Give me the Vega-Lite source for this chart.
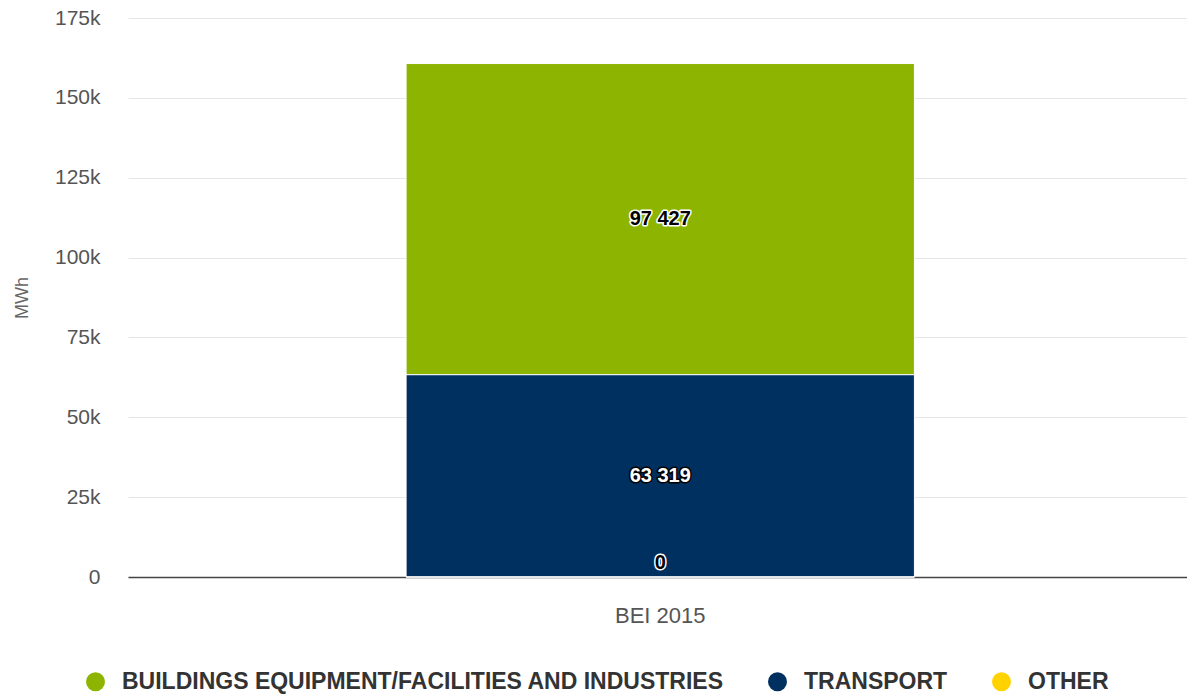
{
  "$schema": "https://vega.github.io/schema/vega-lite/v6.json",
  "width": 1059,
  "height": 559,
  "autosize": "none",
  "padding": {"left": 128, "top": 18, "right": 0, "bottom": 118},
  "background": "white",
  "config": {
    "view": {"stroke": null},
    "font": "Liberation Sans",
    "locale": {"number": {"decimal": ".", "thousands": " ", "grouping": [3], "currency": ["", ""]}},
    "axisY": {
      "titleFontSize": 18,
      "titleFontWeight": "normal",
      "titleColor": "#666666",
      "titleX": -106,
      "titleAlign": "center",
      "titleBaseline": "middle",
      "labelFontSize": 21,
      "labelColor": "#555555",
      "labelPadding": 28,
      "ticks": false,
      "domain": false,
      "grid": true,
      "gridColor": "#e6e6e6",
      "gridWidth": 1
    }
  },
  "data": {
    "values": [
      {"category": "BEI 2015", "sector": "BUILDINGS EQUIPMENT/FACILITIES AND INDUSTRIES", "value": 97427},
      {"category": "BEI 2015", "sector": "TRANSPORT", "value": 63319},
      {"category": "BEI 2015", "sector": "OTHER", "value": 0}
    ]
  },
  "transform": [
    {"calculate": "indexof(['OTHER','TRANSPORT','BUILDINGS EQUIPMENT/FACILITIES AND INDUSTRIES'], datum.sector)", "as": "rank"},
    {"stack": "value", "groupby": ["category"], "sort": [{"field": "rank", "order": "ascending"}], "as": ["v0", "v1"]},
    {"calculate": "(datum.v0 + datum.v1) / 2", "as": "mid"}
  ],
  "encoding": {
    "x": {
      "field": "category",
      "type": "nominal",
      "scale": {"paddingInner": 0.52, "paddingOuter": 0.26, "align": 0.505},
      "axis": {
        "title": null,
        "labelAngle": 0,
        "labelFontSize": 22,
        "labelColor": "#555555",
        "labelPadding": 28,
        "ticks": false,
        "domainColor": "#444444",
        "domainWidth": 1.5,
        "grid": false
      }
    }
  },
  "layer": [
    {
      "mark": {"type": "bar", "stroke": "white", "strokeWidth": 1},
      "encoding": {
        "y": {
          "field": "v0",
          "type": "quantitative",
          "scale": {"domain": [0, 175000], "nice": false, "zero": true},
          "axis": {"title": "MWh", "values": [0, 25000, 50000, 75000, 100000, 125000, 150000, 175000], "labelExpr": "datum.value == 0 ? '0' : format(datum.value / 1000, 'd') + 'k'"}
        },
        "y2": {"field": "v1"},
        "color": {
          "field": "sector",
          "type": "nominal",
          "scale": {
            "domain": ["BUILDINGS EQUIPMENT/FACILITIES AND INDUSTRIES", "TRANSPORT", "OTHER"],
            "range": ["#8cb400", "#00305f", "#ffd200"]
          },
          "legend": {
            "orient": "none",
            "legendX": -44,
            "legendY": 652,
            "direction": "horizontal",
            "title": null,
            "symbolType": "circle",
            "symbolSize": 360,
            "symbolStrokeWidth": 0,
            "symbolOpacity": 1,
            "labelFontSize": 23,
            "labelFontWeight": "bold",
            "labelColor": "#333333",
            "labelOffset": 15,
            "columnPadding": 42,
            "labelLimit": 1000
          }
        }
      }
    },
    {
      "transform": [{"filter": "datum.value > 0"}],
      "mark": {"type": "text", "fontSize": 20, "fontWeight": "bold", "strokeWidth": 3, "strokeJoin": "round", "baseline": "middle"},
      "encoding": {
        "y": {"field": "mid", "type": "quantitative", "scale": {"domain": [0, 175000], "nice": false, "zero": true}, "axis": {"title": "MWh", "values": [0, 25000, 50000, 75000, 100000, 125000, 150000, 175000], "labelExpr": "datum.value == 0 ? '0' : format(datum.value / 1000, 'd') + 'k'"}},
        "text": {"field": "value", "type": "quantitative", "format": ",d"},
        "stroke": {"condition": {"test": "datum.sector === 'TRANSPORT'", "value": "#000000"}, "value": "#ffffff"},
        "fill": {"condition": {"test": "datum.sector === 'TRANSPORT'", "value": "#000000"}, "value": "#ffffff"}
      }
    },
    {
      "transform": [{"filter": "datum.value > 0"}],
      "mark": {"type": "text", "fontSize": 20, "fontWeight": "bold", "baseline": "middle"},
      "encoding": {
        "y": {"field": "mid", "type": "quantitative", "scale": {"domain": [0, 175000], "nice": false, "zero": true}, "axis": {"title": "MWh", "values": [0, 25000, 50000, 75000, 100000, 125000, 150000, 175000], "labelExpr": "datum.value == 0 ? '0' : format(datum.value / 1000, 'd') + 'k'"}},
        "text": {"field": "value", "type": "quantitative", "format": ",d"},
        "fill": {"condition": {"test": "datum.sector === 'TRANSPORT'", "value": "#ffffff"}, "value": "#000000"}
      }
    },
    {
      "transform": [{"filter": "datum.value == 0"}],
      "mark": {"type": "text", "fontSize": 20, "fontWeight": "bold", "strokeWidth": 3, "strokeJoin": "round", "baseline": "middle", "dy": -14, "stroke": "#ffffff", "fill": "#ffffff"},
      "encoding": {
        "y": {"field": "mid", "type": "quantitative", "scale": {"domain": [0, 175000], "nice": false, "zero": true}, "axis": {"title": "MWh", "values": [0, 25000, 50000, 75000, 100000, 125000, 150000, 175000], "labelExpr": "datum.value == 0 ? '0' : format(datum.value / 1000, 'd') + 'k'"}},
        "text": {"field": "value", "type": "quantitative", "format": ",d"}
      }
    },
    {
      "transform": [{"filter": "datum.value == 0"}],
      "mark": {"type": "text", "fontSize": 20, "fontWeight": "bold", "baseline": "middle", "dy": -14, "fill": "#000000"},
      "encoding": {
        "y": {"field": "mid", "type": "quantitative", "scale": {"domain": [0, 175000], "nice": false, "zero": true}, "axis": {"title": "MWh", "values": [0, 25000, 50000, 75000, 100000, 125000, 150000, 175000], "labelExpr": "datum.value == 0 ? '0' : format(datum.value / 1000, 'd') + 'k'"}},
        "text": {"field": "value", "type": "quantitative", "format": ",d"}
      }
    }
  ]
}
